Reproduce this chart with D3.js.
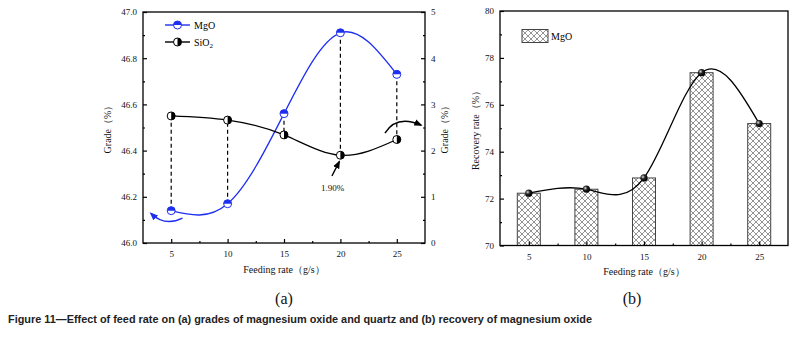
<!DOCTYPE html>
<html>
<head>
<meta charset="utf-8">
<script src="https://cdn.jsdelivr.net/npm/d3@7"></script>
<style>
body{margin:0;background:#fff;}
svg{display:block;}
</style>
</head>
<body>
<svg id="wykres" width="795" height="350"></svg>
<script>
// dane
var feed = [5, 10, 15, 20, 25];
var mgoGrade = [46.14, 46.17, 46.56, 46.91, 46.73];
var sio2Grade = [2.75, 2.66, 2.34, 1.90, 2.24];
var mgoRecovery = [72.23, 72.40, 72.88, 77.37, 75.20];
var xTicks = [5, 10, 15, 20, 25];
var xMinor = [7.5, 12.5, 17.5, 22.5];
var gradeTicks = [46.0, 46.2, 46.4, 46.6, 46.8, 47.0];
var gradeMinor = [46.1, 46.3, 46.5, 46.7, 46.9];
var sio2Ticks = [0, 1, 2, 3, 4, 5];
var sio2Minor = [0.5, 1.5, 2.5, 3.5, 4.5];
var recTicks = [70, 72, 74, 76, 78, 80];
var recMinor = [71, 73, 75, 77, 79];

var serif = "'Liberation Serif','DejaVu Serif',serif";
var niebieski = "#1f2ff0";
var svg = d3.select("#wykres");
var defs = svg.append("defs");

// wzor kratki dla slupkow
var wzor = defs.append("pattern")
	.attr("id", "kratka")
	.attr("patternUnits", "userSpaceOnUse")
	.attr("width", 6).attr("height", 6);
wzor.append("rect").attr("width", 6).attr("height", 6).attr("fill", "#fff");
wzor.append("path").attr("d", "M0,0L6,6M-1,5L1,7M5,-1L7,1").attr("stroke", "#666").attr("stroke-width", 0.7);
wzor.append("path").attr("d", "M0,6L6,0M-1,1L1,-1M5,7L7,5").attr("stroke", "#666").attr("stroke-width", 0.7);

var kula = defs.append("radialGradient").attr("id", "kula")
	.attr("cx", "35%").attr("cy", "35%").attr("r", "65%");
kula.append("stop").attr("offset", "0%").attr("stop-color", "#ddd");
kula.append("stop").attr("offset", "45%").attr("stop-color", "#222");
kula.append("stop").attr("offset", "100%").attr("stop-color", "#000");

function grot(id, kolor){
	defs.append("marker").attr("id", id)
		.attr("viewBox", "0 0 10 10").attr("refX", 8).attr("refY", 5)
		.attr("markerWidth", 6).attr("markerHeight", 6)
		.attr("orient", "auto-start-reverse")
		.append("path").attr("d", "M0,1L10,5L0,9Z").attr("fill", kolor);
}
grot("grotN", niebieski);
grot("grotC", "#000");

function osie(g, x, y, yTicks, yMinor, fmt, y2, y2Ticks, y2Minor){
	var x0 = x.range()[0], x1 = x.range()[1];
	var yb = y.range()[0], yt = y.range()[1];
	g.append("g").attr("transform", "translate(0," + yb + ")")
		.call(d3.axisBottom(x).tickValues(xTicks).tickSize(-4).tickPadding(8).tickFormat(d3.format("d")));
	g.append("g").attr("transform", "translate(0," + yb + ")")
		.call(d3.axisBottom(x).tickValues(xMinor).tickSize(-2).tickFormat(""));
	g.append("g").attr("transform", "translate(" + x0 + ",0)")
		.call(d3.axisLeft(y).tickValues(yTicks).tickSize(-4).tickPadding(6).tickFormat(fmt));
	g.append("g").attr("transform", "translate(" + x0 + ",0)")
		.call(d3.axisLeft(y).tickValues(yMinor).tickSize(-2).tickFormat(""));
	if(y2){
		g.append("g").attr("transform", "translate(" + x1 + ",0)")
			.call(d3.axisRight(y2).tickValues(y2Ticks).tickSize(-4).tickPadding(6).tickFormat(d3.format("d")));
		g.append("g").attr("transform", "translate(" + x1 + ",0)")
			.call(d3.axisRight(y2).tickValues(y2Minor).tickSize(-2).tickFormat(""));
	}
	g.selectAll(".domain").remove();
	g.selectAll(".tick line").attr("stroke", "#000").attr("stroke-width", 1.2);
	g.selectAll(".tick text").attr("font-family", serif).attr("font-size", 9).attr("fill", "#111");
	g.append("rect").attr("x", x0).attr("y", yt).attr("width", x1 - x0).attr("height", yb - yt)
		.attr("fill", "none").attr("stroke", "#000").attr("stroke-width", 1.3);
}

function napis(g, x, y, tekst, rozmiar, obrot){
	var t = g.append("text")
		.attr("font-family", serif)
		.attr("font-size", rozmiar)
		.attr("text-anchor", "middle")
		.attr("fill", "#111")
		.text(tekst);
	if(obrot)
		t.attr("transform", "translate(" + x + "," + y + ") rotate(-90)");
	else
		t.attr("x", x).attr("y", y);
	return t;
}

// ---------- wykres (a) ----------
var gA = svg.append("g");
var xA = d3.scaleLinear().domain([2.5, 27.5]).range([143, 425]);
var yA = d3.scaleLinear().domain([46, 47]).range([243, 12]);
var yA2 = d3.scaleLinear().domain([0, 5]).range([243, 12]);

// linie przerywane
var pary = feed.map(function(f, i){ return [f, yA(mgoGrade[i]), yA2(sio2Grade[i])]; });
gA.selectAll(".przerywana").data(pary).enter().append("line")
	.attr("x1", function(d){ return xA(d[0]); })
	.attr("x2", function(d){ return xA(d[0]); })
	.attr("y1", function(d){ return d[1]; })
	.attr("y2", function(d){ return d[2]; })
	.attr("stroke", "#000").attr("stroke-width", 1.2).attr("stroke-dasharray", "4,3");

var liniaMgo = d3.line().x(function(d, i){ return xA(feed[i]); }).y(function(d){ return yA(d); }).curve(d3.curveNatural);
var liniaSio = d3.line().x(function(d, i){ return xA(feed[i]); }).y(function(d){ return yA2(d); }).curve(d3.curveNatural);
gA.append("path").attr("d", liniaMgo(mgoGrade)).attr("fill", "none").attr("stroke", niebieski).attr("stroke-width", 1.3);
gA.append("path").attr("d", liniaSio(sio2Grade)).attr("fill", "none").attr("stroke", "#000").attr("stroke-width", 1.3);

var r = 4;
function znacznikMgo(g, cx, cy){
	g.append("circle").attr("cx", cx).attr("cy", cy).attr("r", r).attr("fill", "#fff").attr("stroke", niebieski).attr("stroke-width", 1);
	g.append("path").attr("d", "M" + (cx - r) + "," + cy + "A" + r + "," + r + " 0 0 1 " + (cx + r) + "," + cy + "Z").attr("fill", niebieski);
}
function znacznikSio(g, cx, cy){
	g.append("circle").attr("cx", cx).attr("cy", cy).attr("r", r).attr("fill", "#fff").attr("stroke", "#000").attr("stroke-width", 1);
	g.append("path").attr("d", "M" + cx + "," + (cy - r) + "A" + r + "," + r + " 0 0 1 " + cx + "," + (cy + r) + "Z").attr("fill", "#000");
}
feed.forEach(function(f, i){
	znacznikMgo(gA, xA(f), yA(mgoGrade[i]));
	znacznikSio(gA, xA(f), yA2(sio2Grade[i]));
});

// strzalki
gA.append("path")
	.attr("d", "M" + xA(6.0) + "," + yA(46.108) + "Q" + xA(4.45) + "," + yA(46.07) + " " + xA(3.2) + "," + yA(46.128))
	.attr("fill", "none").attr("stroke", niebieski).attr("stroke-width", 1.4).attr("marker-end", "url(#grotN)");
gA.append("path")
	.attr("d", "M" + xA(23.95) + "," + yA2(2.38) + "Q" + xA(25.0) + "," + yA2(2.78) + " " + xA(27.15) + "," + yA2(2.55))
	.attr("fill", "none").attr("stroke", "#000").attr("stroke-width", 1.4).attr("marker-end", "url(#grotC)");
gA.append("path")
	.attr("d", "M" + xA(19.25) + "," + yA2(1.45) + "L" + xA(19.9) + "," + yA2(1.76))
	.attr("fill", "none").attr("stroke", "#000").attr("stroke-width", 1.4).attr("marker-end", "url(#grotC)");
napis(gA, xA(19.3), yA2(1.13), "1.90%", 9);

osie(gA, xA, yA, gradeTicks, gradeMinor, d3.format(".1f"), yA2, sio2Ticks, sio2Minor);

// legenda (a)
var legA = gA.append("g");
legA.append("line").attr("x1", 165).attr("x2", 190).attr("y1", 25).attr("y2", 25).attr("stroke", niebieski).attr("stroke-width", 1.4);
znacznikMgo(legA, 177.5, 25);
legA.append("text").attr("x", 194).attr("y", 28.5).attr("font-family", serif).attr("font-size", 10).text("MgO");
legA.append("line").attr("x1", 165).attr("x2", 190).attr("y1", 42).attr("y2", 42).attr("stroke", "#000").attr("stroke-width", 1.4);
znacznikSio(legA, 177.5, 42);
var tS = legA.append("text").attr("x", 194).attr("y", 45.5).attr("font-family", serif).attr("font-size", 10);
tS.append("tspan").text("SiO");
tS.append("tspan").attr("font-size", 7).attr("dy", 2).text("2");

napis(gA, 284, 273, "Feeding rate（g/s）", 10);
napis(gA, 111, 127, "Grade（%）", 10, true);
napis(gA, 448, 127, "Grade（%）", 10, true);
napis(gA, 284, 304, "(a)", 16);

// ---------- wykres (b) ----------
var gB = svg.append("g");
var xB = d3.scaleLinear().domain([2.5, 27.5]).range([500, 788]);
var yB = d3.scaleLinear().domain([70, 80]).range([245.5, 11]);
var szer = 23;

gB.selectAll(".slupek").data(mgoRecovery).enter().append("rect")
	.attr("x", function(d, i){ return xB(feed[i]) - szer / 2; })
	.attr("y", function(d){ return yB(d); })
	.attr("width", szer)
	.attr("height", function(d){ return yB(70) - yB(d); })
	.attr("fill", "url(#kratka)")
	.attr("stroke", "#444").attr("stroke-width", 1);

var liniaRec = d3.line().x(function(d, i){ return xB(feed[i]); }).y(function(d){ return yB(d); }).curve(d3.curveNatural);
gB.append("path").attr("d", liniaRec(mgoRecovery)).attr("fill", "none").attr("stroke", "#000").attr("stroke-width", 1.3);
gB.selectAll(".kula").data(mgoRecovery).enter().append("circle")
	.attr("cx", function(d, i){ return xB(feed[i]); })
	.attr("cy", function(d){ return yB(d); })
	.attr("r", 3.6)
	.attr("fill", "url(#kula)");

osie(gB, xB, yB, recTicks, recMinor, d3.format("d"));

gB.append("rect").attr("x", 522).attr("y", 29.5).attr("width", 26).attr("height", 13)
	.attr("fill", "url(#kratka)").attr("stroke", "#444").attr("stroke-width", 1);
gB.append("text").attr("x", 551).attr("y", 39.5).attr("font-family", serif).attr("font-size", 10).text("MgO");

napis(gB, 644, 275, "Feeding rate（g/s）", 10);
napis(gB, 479, 128, "Recovery rate（%）", 10, true);
napis(gB, 632, 304, "(b)", 16);

// podpis
svg.append("text")
	.attr("x", 8).attr("y", 323)
	.attr("font-family", "'Liberation Sans Narrow','Liberation Sans',Arial,sans-serif")
	.attr("font-weight", "bold")
	.attr("font-size", 10.5)
	.attr("fill", "#222")
	.attr("textLength", 584)
	.attr("lengthAdjust", "spacingAndGlyphs")
	.text("Figure 11—Effect of feed rate on (a) grades of magnesium oxide and quartz and (b) recovery of magnesium oxide");
</script>
</body>
</html>
